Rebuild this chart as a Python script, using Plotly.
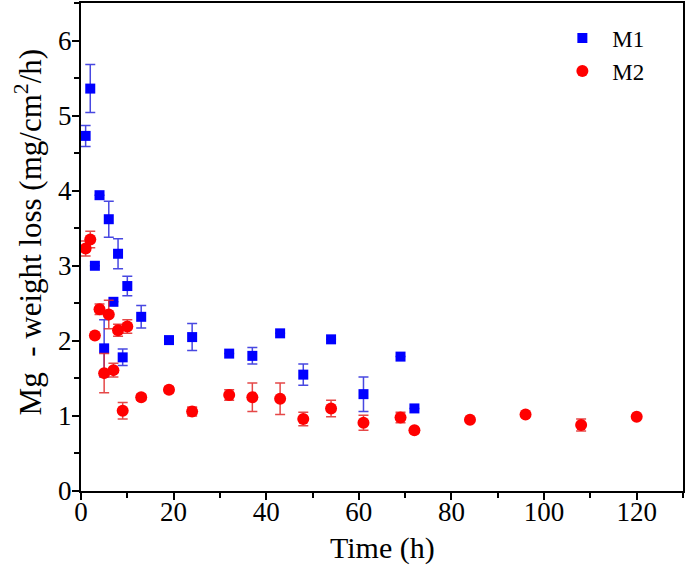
import plotly.graph_objects as go

# M1 data
m1_time = [1, 2, 3, 4, 5, 6, 7, 8, 9, 10, 13, 19, 24, 32, 37, 43, 48, 54, 61, 69, 72]
m1_loss = [4.73, 5.36, 3.00, 3.94, 1.90, 3.62, 2.52, 3.16, 1.78, 2.73, 2.32, 2.01, 2.05, 1.83, 1.80, 2.10, 1.55, 2.02, 1.29, 1.79, 1.10]
m1_err = [0.14, 0.32, 0.0, 0.0, 0.38, 0.24, 0.0, 0.20, 0.11, 0.13, 0.15, 0.0, 0.18, 0.0, 0.11, 0.0, 0.14, 0.0, 0.23, 0.0, 0.0]

# M2 data
m2_time = [1, 2, 3, 4, 5, 6, 7, 8, 9, 10, 13, 19, 24, 32, 37, 43, 48, 54, 61, 69, 72, 84, 96, 108, 120]
m2_loss = [3.23, 3.35, 2.07, 2.42, 1.57, 2.35, 1.61, 2.14, 1.07, 2.19, 1.25, 1.35, 1.06, 1.28, 1.25, 1.23, 0.96, 1.10, 0.91, 0.98, 0.81, 0.95, 1.02, 0.88, 0.99]
m2_err = [0.10, 0.11, 0.0, 0.07, 0.26, 0.19, 0.09, 0.08, 0.11, 0.09, 0.04, 0.04, 0.06, 0.07, 0.19, 0.21, 0.09, 0.11, 0.10, 0.07, 0.0, 0.0, 0.0, 0.08, 0.0]

x_ticks = [0, 20, 40, 60, 80, 100, 120]
y_ticks = [0, 1, 2, 3, 4, 5, 6]
x_title = "Time (h)"
y_title = "Mg  - weight loss (mg/cm<sup>2</sup>/h)"

font_family = "Liberation Serif, Times New Roman, serif"

fig = go.Figure()
fig.add_trace(go.Scatter(
    x=m1_time, y=m1_loss, mode="markers", name="M1",
    marker=dict(symbol="square", size=10, color="#0000FF"),
    error_y=dict(type="data", array=m1_err, visible=True, color="rgba(40,40,220,0.85)", thickness=1.5, width=5),
))
fig.add_trace(go.Scatter(
    x=m2_time, y=m2_loss, mode="markers", name="M2",
    marker=dict(symbol="circle", size=12, color="#FF0000"),
    error_y=dict(type="data", array=m2_err, visible=True, color="rgba(225,40,40,0.85)", thickness=1.5, width=5),
))

fig.update_layout(
    width=685, height=569,
    margin=dict(l=81, r=2, t=3, b=78, autoexpand=False),
    paper_bgcolor="white", plot_bgcolor="white",
    font=dict(family=font_family, color="black", size=27),
    showlegend=True,
    legend=dict(x=0.783, y=0.972, xanchor="left", yanchor="top", itemwidth=50,
                tracegroupgap=0,
                bgcolor="rgba(0,0,0,0)", font=dict(size=23, family=font_family)),
)
fig.add_annotation(
    text=y_title, textangle=-90, xref="paper", yref="paper",
    x=-0.088, y=0.53, xanchor="center", yanchor="middle", showarrow=False,
    font=dict(size=31, family=font_family, color="black"),
)
fig.add_annotation(
    text=x_title, xref="paper", yref="paper",
    x=0.5, y=-0.117, xanchor="center", yanchor="middle", showarrow=False,
    font=dict(size=30, family=font_family, color="black"),
)
fig.update_xaxes(
    range=[0, 130], tickvals=x_ticks, ticktext=[str(v) for v in x_ticks],
    showgrid=False, zeroline=False, automargin=False,
    showline=True, linecolor="black", linewidth=2, mirror=True,
    ticks="outside", ticklen=7, tickwidth=2, tickcolor="black",
    minor=dict(dtick=10, tick0=0, ticks="outside", ticklen=5, tickwidth=2, tickcolor="black"),
    tickfont=dict(size=27, family=font_family), ticklabelstandoff=-11,
)
fig.update_yaxes(
    range=[0, 6.5], tickvals=y_ticks, ticktext=[str(v) for v in y_ticks],
    showgrid=False, zeroline=False, automargin=False,
    showline=True, linecolor="black", linewidth=2, mirror=True,
    ticks="outside", ticklen=7, tickwidth=2, tickcolor="black",
    minor=dict(dtick=0.5, tick0=0, ticks="outside", ticklen=5, tickwidth=2, tickcolor="black"),
    tickfont=dict(size=27, family=font_family), ticklabelstandoff=-5,
)

fig.write_html("out.html", config={"displayModeBar": False},
               post_script="document.body.style.margin='0px';")
